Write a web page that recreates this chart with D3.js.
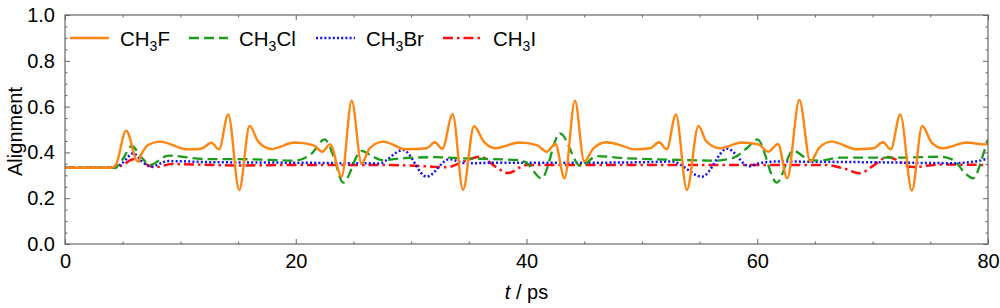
<!DOCTYPE html>
<html>
<head>
<meta charset="utf-8">
<script src="https://cdn.jsdelivr.net/npm/d3@7"></script>
<style>
  html, body { margin: 0; padding: 0; background: #fff; }
  svg { display: block; font-family: "Liberation Sans", Arial, sans-serif; }
</style>
</head>
<body>
<svg id="chart" width="1000" height="308"></svg>
<script>
// ---- data (time in ps, alignment) ----
const seriesNames = ["CH3F", "CH3Cl", "CH3Br", "CH3I"];

const ch3fT = [0,4.0,4.4,5.3,6.3,6.7,7.2,8.2,10.7,11.8,12.7,13.35,14.15,15.1,16.0,16.75,17.9,19.9,21.5,22.3,22.97,23.98,24.85,25.7,26.4,27.6,29.5,31.35,32.05,32.7,33.6,34.5,35.45,36.3,37.3,39.35,40.9,41.75,42.5,43.3,44.2,45.0,45.8,46.95,48.1,49.4,50.7,51.5,52.15,52.95,53.9,54.9,55.6,56.8,58.65,60.1,60.96,61.8,62.6,63.65,64.6,65.4,66.45,68.6,70.06,70.9,71.57,72.4,73.4,74.3,75.1,76.1,78.15,79.7,80];
const ch3fV = [0.333,0.333,0.345,0.495,0.36,0.40,0.432,0.447,0.413,0.416,0.442,0.413,0.566,0.236,0.515,0.447,0.415,0.443,0.432,0.403,0.435,0.294,0.626,0.351,0.418,0.447,0.414,0.418,0.444,0.415,0.567,0.236,0.514,0.447,0.418,0.443,0.432,0.403,0.437,0.287,0.626,0.36,0.418,0.444,0.432,0.413,0.418,0.444,0.413,0.566,0.236,0.515,0.447,0.418,0.443,0.435,0.403,0.437,0.287,0.629,0.36,0.422,0.447,0.414,0.418,0.444,0.413,0.566,0.233,0.515,0.444,0.418,0.443,0.435,0.436];

const ch3clT = [0,4.3,5.0,5.78,6.6,7.37,8.95,12.1,15.9,19.9,21.4,22.5,23.3,24.1,25.7,26.6,27.45,29.2,32.1,34.5,39.15,40.0,41.3,42.9,44.7,46.1,48.1,50.55,53.4,56.3,57.8,59.1,60.0,61.7,63.1,64.6,65.4,67.2,72.4,75.8,77.0,77.9,78.7,79.7,80];
const ch3clV = [0.333,0.333,0.37,0.428,0.38,0.345,0.386,0.371,0.37,0.364,0.396,0.457,0.38,0.268,0.407,0.384,0.366,0.374,0.379,0.374,0.367,0.355,0.287,0.483,0.34,0.384,0.376,0.371,0.367,0.364,0.374,0.418,0.457,0.268,0.407,0.366,0.364,0.377,0.377,0.381,0.367,0.316,0.287,0.41,0.457];

const ch3brT = [0,4.3,5.0,5.92,6.7,7.45,8.95,13,20,27.2,29.3,31.35,33.3,34.8,37.1,45,50,52.6,55.2,57.4,59.3,60.1,61.5,70,77,79.3,80];
const ch3brV = [0.333,0.333,0.355,0.396,0.36,0.338,0.362,0.357,0.355,0.352,0.41,0.294,0.37,0.352,0.355,0.355,0.357,0.36,0.294,0.416,0.34,0.352,0.36,0.357,0.353,0.364,0.374];

const ch3iT = [0,4.3,5.0,5.92,7.8,9.25,15,20,28,31,33.1,34.5,36,37.3,38.4,40.0,45,60,66,67.5,68.9,70,71.3,73.5,75.8,80];
const ch3iV = [0.333,0.333,0.345,0.37,0.335,0.349,0.343,0.345,0.345,0.34,0.335,0.36,0.381,0.338,0.31,0.345,0.345,0.345,0.345,0.33,0.309,0.34,0.38,0.336,0.347,0.345];

const xMajorTicks = [0, 20, 40, 60, 80];
const yMajorTicks = [0.0, 0.2, 0.4, 0.6, 0.8, 1.0];
const yTickLabels = ["0.0", "0.2", "0.4", "0.6", "0.8", "1.0"];

// ---- layout ----
const svg = d3.select("#chart");
const mLeft = 65, mRight = 988, mTop = 15, mBottom = 244;
const x = d3.scaleLinear().domain([0, 80]).range([mLeft, mRight]);
const y = d3.scaleLinear().domain([0, 1]).range([mBottom, mTop]);

const frameColor = "#666";
const fontSize = 20;

const series = [
  {name: "CH3F",  t: ch3fT,  v: ch3fV,  color: "#ff8510", width: 2.4, dash: null},
  {name: "CH3Cl", t: ch3clT, v: ch3clV, color: "#1a9e1a", width: 2.3, dash: "10,5"},
  {name: "CH3Br", t: ch3brT, v: ch3brV, color: "#1010ff", width: 2.5, dash: "2,2.2"},
  {name: "CH3I",  t: ch3iT,  v: ch3iV,  color: "#ff1010", width: 2.5, dash: "10,4,2.5,4"}
];

// ---- series lines ----
svg.append("clipPath").attr("id", "clip")
  .append("rect").attr("x", mLeft).attr("y", mTop).attr("width", mRight - mLeft).attr("height", mBottom - mTop);

const line = d3.line().x(d => x(d[0])).y(d => y(d[1])).curve(d3.curveMonotoneX);
const g = svg.append("g").attr("clip-path", "url(#clip)");
series.slice().reverse().forEach(s => {
  const pts = s.t.map((t, i) => [t, s.v[i]]);
  g.append("path").datum(pts)
    .attr("d", line)
    .attr("fill", "none")
    .attr("stroke", s.color)
    .attr("stroke-width", s.width)
    .attr("stroke-dasharray", s.dash)
    .attr("stroke-linejoin", "round");
});

// ---- axes (ticks inward on all four sides) ----
function styleAxis(sel) {
  sel.select(".domain").remove();
  sel.selectAll(".tick line").attr("stroke", frameColor).attr("stroke-width", 1);
}
const xMinor = d3.range(0, 80.001, 5).filter(v => xMajorTicks.indexOf(v) < 0);
const yMinor = d3.range(0, 1.0001, 0.05).map(v => +v.toFixed(2)).filter(v => !yMajorTicks.some(m => Math.abs(m - v) < 1e-6));

// bottom
svg.append("g").attr("transform", `translate(0,${mBottom})`)
  .call(d3.axisBottom(x).tickValues(xMajorTicks).tickSize(-5).tickPadding(10).tickFormat(d3.format("d")))
  .call(styleAxis)
  .call(a => a.selectAll("text").attr("font-size", fontSize).attr("fill", "#000").attr("font-family", "Liberation Sans, Arial, sans-serif"));
svg.append("g").attr("transform", `translate(0,${mBottom})`)
  .call(d3.axisBottom(x).tickValues(xMinor).tickSize(-2.5).tickFormat(""))
  .call(styleAxis);
// top
svg.append("g").attr("transform", `translate(0,${mTop})`)
  .call(d3.axisTop(x).tickValues(xMajorTicks).tickSize(-5).tickFormat(""))
  .call(styleAxis);
svg.append("g").attr("transform", `translate(0,${mTop})`)
  .call(d3.axisTop(x).tickValues(xMinor).tickSize(-2.5).tickFormat(""))
  .call(styleAxis);
// left
svg.append("g").attr("transform", `translate(${mLeft},0)`)
  .call(d3.axisLeft(y).tickValues(yMajorTicks).tickSize(-5).tickPadding(10).tickFormat((d, i) => yTickLabels[i]))
  .call(styleAxis)
  .call(a => a.selectAll("text").attr("font-size", fontSize).attr("fill", "#000").attr("font-family", "Liberation Sans, Arial, sans-serif"));
svg.append("g").attr("transform", `translate(${mLeft},0)`)
  .call(d3.axisLeft(y).tickValues(yMinor).tickSize(-2.5).tickFormat(""))
  .call(styleAxis);
// right
svg.append("g").attr("transform", `translate(${mRight},0)`)
  .call(d3.axisRight(y).tickValues(yMajorTicks).tickSize(-5).tickFormat(""))
  .call(styleAxis);
svg.append("g").attr("transform", `translate(${mRight},0)`)
  .call(d3.axisRight(y).tickValues(yMinor).tickSize(-2.5).tickFormat(""))
  .call(styleAxis);

// frame
svg.append("rect")
  .attr("x", mLeft).attr("y", mTop).attr("width", mRight - mLeft).attr("height", mBottom - mTop)
  .attr("fill", "none").attr("stroke", frameColor).attr("stroke-width", 1.2);

// ---- axis titles ----
svg.append("text")
  .attr("transform", `translate(22,${(mTop + mBottom) / 2 + 2}) rotate(-90)`)
  .attr("text-anchor", "middle")
  .attr("font-size", fontSize)
  .text("Alignment");

const xt = svg.append("text")
  .attr("x", (mLeft + mRight) / 2).attr("y", 299)
  .attr("text-anchor", "middle")
  .attr("font-size", fontSize);
xt.append("tspan").attr("font-style", "italic").text("t");
xt.append("tspan").text(" / ps");

// ---- legend ----
const legendX = [70, 189, 316, 443];
const legendY = 38;
series.forEach((s, i) => {
  const lg = svg.append("g").attr("transform", `translate(${legendX[i]},${legendY})`);
  lg.append("line").attr("x1", 0).attr("x2", 39).attr("y1", 0).attr("y2", 0)
    .attr("stroke", s.color).attr("stroke-width", s.width).attr("stroke-dasharray", s.dash);
  const txt = lg.append("text").attr("x", 50).attr("y", 7.5).attr("font-size", 20.5);
  const m = s.name.match(/^(CH)(3)(.*)$/);
  txt.append("tspan").text(m[1]);
  txt.append("tspan").attr("font-size", 14).attr("dy", 5).text(m[2]);
  txt.append("tspan").attr("dy", -5).text(m[3]);
});
</script>
</body>
</html>
